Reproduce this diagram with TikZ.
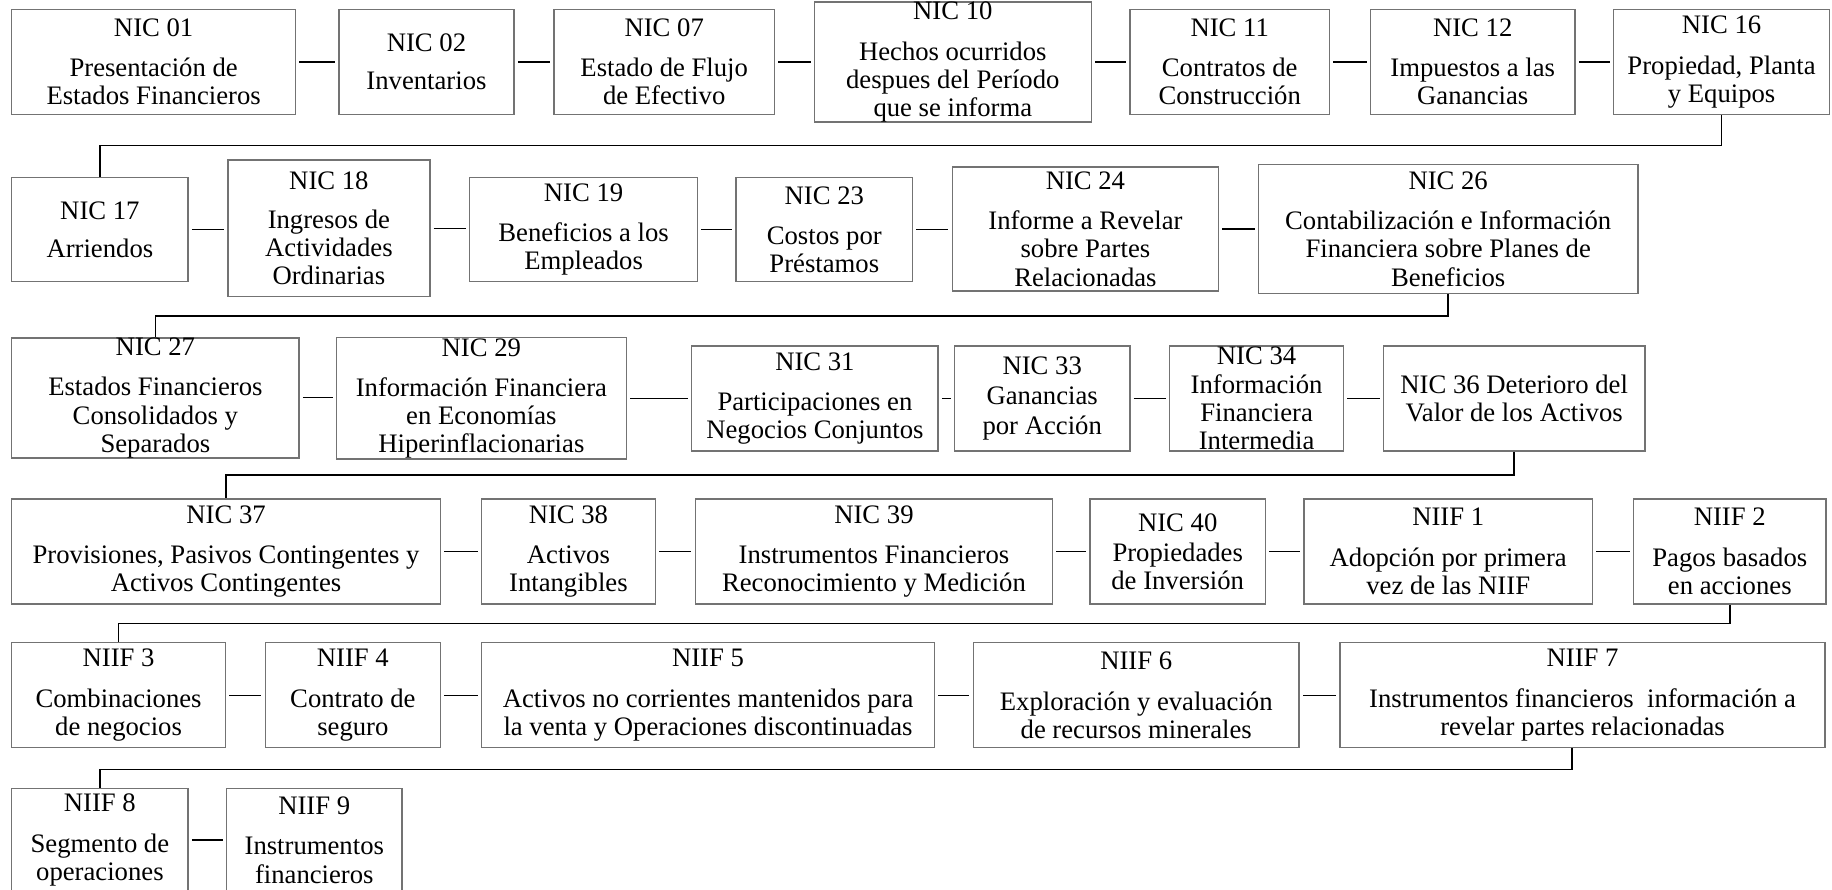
\documentclass[tikz,border=0pt]{standalone}
\usepackage{fontspec}
\setmainfont{Liberation Serif}
\usetikzlibrary{positioning}

\tikzset{
  caja/.style={draw=black!55, line width=0.7pt, align=center, inner sep=0pt,
    font=\fontsize{13}{13.7}\selectfont},
  enlace/.style={line width=0.6pt, shorten <=1.5pt, shorten >=1.5pt},
  salto/.style={line width=0.8pt},
}

\begin{document}
\begin{tikzpicture}[x=0.02cm, y=-0.02cm]
    \useasboundingbox (0,0) rectangle (1568,761);

    % fila 1
    \node[caja, minimum width=4.86cm, minimum height=1.8cm] (nic01) at (131.5,53) {NIC 01\\[6pt] Presentación de\\ Estados Financieros};
    \node[caja, minimum width=3.0cm, minimum height=1.8cm] (nic02) at (365,53) {NIC 02\\[5pt] Inventarios};
    \node[caja, minimum width=3.78cm, minimum height=1.8cm] (nic07) at (568.5,53) {NIC 07\\[6pt] Estado de Flujo\\ de Efectivo};
    \node[caja, minimum width=4.74cm, minimum height=2.0cm] (nic10) at (815.5,53) {NIC 10\\[6pt] Hechos ocurridos\\ despues del Período\\ que se informa};
    \node[caja, minimum width=3.42cm, minimum height=1.8cm] (nic11) at (1052.5,53) {NIC 11\\[6pt] Contratos de\\ Construcción};
    \node[caja, minimum width=3.5cm, minimum height=1.8cm] (nic12) at (1260.5,53) {NIC 12\\[6pt] Impuestos a las\\ Ganancias};
    \node[caja, minimum width=3.7cm, minimum height=1.8cm] (nic16) at (1473.5,53) {NIC 16\\[6pt] Propiedad, Planta\\ y Equipos};

    % fila 2
    \node[caja, minimum width=3.02cm, minimum height=1.78cm] (nic17) at (85.5,196.5) {NIC 17\\[5pt] Arriendos};
    \node[caja, minimum width=3.46cm, minimum height=2.34cm] (nic18) at (281.5,195.5) {NIC 18\\[5pt] Ingresos de\\ Actividades\\ Ordinarias};
    \node[caja, minimum width=3.9cm, minimum height=1.78cm] (nic19) at (499.5,196.5) {NIC 19\\[6pt] Beneficios a los\\ Empleados};
    \node[caja, minimum width=3.02cm, minimum height=1.78cm] (nic23) at (705.5,196.5) {NIC 23\\[6pt] Costos por\\ Préstamos};
    \node[caja, minimum width=4.56cm, minimum height=2.12cm] (nic24) at (929,196) {NIC 24\\[6pt] Informe a Revelar\\ sobre Partes\\ Relacionadas};
    \node[caja, minimum width=6.5cm, minimum height=2.2cm] (nic26) at (1239.5,196) {NIC 26\\[6pt] Contabilización e Información\\ Financiera sobre Planes de\\ Beneficios};

    % fila 3
    \node[caja, minimum width=4.92cm, minimum height=2.02cm] (nic27) at (133,340.5) {NIC 27\\[6pt] Estados Financieros\\ Consolidados y\\ Separados};
    \node[caja, minimum width=4.96cm, minimum height=2.08cm] (nic29) at (412,341) {NIC 29\\[6pt] Información Financiera\\ en Economías\\ Hiperinflacionarias};
    \node[caja, minimum width=4.22cm, minimum height=1.8cm] (nic31) at (697.5,341) {NIC 31\\[6pt] Participaciones en\\ Negocios Conjuntos};
    \node[caja, minimum width=3.0cm, minimum height=1.8cm] (nic33) at (892,341) {NIC 33\\[1pt] Ganancias\\[1pt] por Acción};
    \node[caja, minimum width=2.98cm, minimum height=1.8cm] (nic34) at (1075.5,341) {NIC 34\\ Información\\ Financiera\\ Intermedia};
    \node[caja, minimum width=4.48cm, minimum height=1.8cm] (nic36) at (1296,341) {NIC 36 Deterioro del\\ Valor de los Activos};

    % fila 4
    \node[caja, minimum width=7.34cm, minimum height=1.8cm] (nic37) at (193.5,472) {NIC 37\\[6pt] Provisiones, Pasivos Contingentes y\\ Activos Contingentes};
    \node[caja, minimum width=2.98cm, minimum height=1.8cm] (nic38) at (486.5,472) {NIC 38\\[6pt] Activos\\ Intangibles};
    \node[caja, minimum width=6.12cm, minimum height=1.8cm] (nic39) at (748,472) {NIC 39\\[6pt] Instrumentos Financieros\\ Reconocimiento y Medición};
    \node[caja, minimum width=3.0cm, minimum height=1.8cm] (nic40) at (1008,472) {NIC 40\\[1pt] Propiedades\\ de Inversión};
    \node[caja, minimum width=4.94cm, minimum height=1.8cm] (niif1) at (1239.5,472) {NIIF 1\\[6pt] Adopción por primera\\ vez de las NIIF};
    \node[caja, minimum width=3.3cm, minimum height=1.8cm] (niif2) at (1480.5,472) {NIIF 2\\[6pt] Pagos basados\\ en acciones};

    % fila 5
    \node[caja, minimum width=3.66cm, minimum height=1.8cm] (niif3) at (101.5,595) {NIIF 3\\[6pt] Combinaciones\\ de negocios};
    \node[caja, minimum width=3.0cm, minimum height=1.8cm] (niif4) at (302,595) {NIIF 4\\[6pt] Contrato de\\ seguro};
    \node[caja, minimum width=7.76cm, minimum height=1.8cm] (niif5) at (606,595) {NIIF 5\\[6pt] Activos no corrientes mantenidos para\\ la venta y Operaciones discontinuadas};
    \node[caja, minimum width=5.58cm, minimum height=1.8cm] (niif6) at (972.5,595) {NIIF 6\\[6pt] Exploración y evaluación\\ de recursos minerales};
    \node[caja, minimum width=8.3cm, minimum height=1.8cm] (niif7) at (1354.5,595) {NIIF 7\\[6pt] Instrumentos financieros\ \ información a\\ revelar partes relacionadas};

    % fila 6
    \node[caja, minimum width=3.02cm, minimum height=1.76cm] (niif8) at (85.5,719) {NIIF 8\\[6pt] Segmento de\\ operaciones};
    \node[caja, minimum width=3.0cm, minimum height=1.76cm] (niif9) at (269,719) {NIIF 9\\[6pt] Instrumentos\\ financieros};

    % enlaces dentro de cada fila
    \foreach \a/\b in {nic01/nic02, nic02/nic07, nic07/nic10, nic10/nic11, nic11/nic12, nic12/nic16,
                       nic17/nic18, nic18/nic19, nic19/nic23, nic23/nic24, nic24/nic26,
                       nic27/nic29, nic29/nic31, nic31/nic33, nic33/nic34, nic34/nic36,
                       nic37/nic38, nic38/nic39, nic39/nic40, nic40/niif1, niif1/niif2,
                       niif3/niif4, niif4/niif5, niif5/niif6, niif6/niif7,
                       niif8/niif9}
        \draw[enlace] (\a.east) -- (\a.east -| \b.west);

    % saltos de fila
    \draw[salto] (nic16.south) -- ++(0,26) -| (nic17.north);
    \draw[salto] (nic26.south) -- ++(0,19) -| (nic27.north);
    \draw[salto] (nic36.south) -- ++(0,20) -| (nic37.north);
    \draw[salto] (niif2.south) -- ++(0,16) -| (niif3.north);
    \draw[salto] ([xshift=-0.18cm]niif7.south) -- ++(0,18) -| (niif8.north);
\end{tikzpicture}
\end{document}
